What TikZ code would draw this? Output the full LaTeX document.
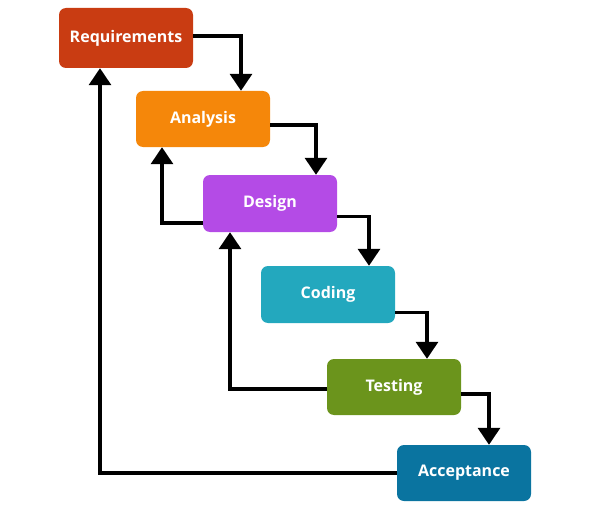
\documentclass[tikz,border=0pt]{standalone}
\usepackage{fontspec}
\setmainfont{Open Sans}
\usetikzlibrary{arrows.meta}
\definecolor{creq}{HTML}{C93C12}
\definecolor{cana}{HTML}{F5870A}
\definecolor{cdes}{HTML}{B44BE6}
\definecolor{ccod}{HTML}{23A8BE}
\definecolor{ctes}{HTML}{6B941C}
\definecolor{cacc}{HTML}{0A74A0}
\tikzset{
  phase/.style={rounded corners=7pt, minimum width=134pt, text=white,
    font=\fontsize{16pt}{19pt}\selectfont\bfseries, inner sep=0pt},
  flow/.style={line width=3.2pt, -{Triangle[width=22pt,length=17pt]}, line join=miter}
}
\begin{document}
\begin{tikzpicture}[x=1pt,y=-1pt]
\useasboundingbox (0,0) rectangle (611,519);
\node[phase, fill=creq, minimum height=60pt] (req) at (126,38) {Requirements};
\node[phase, fill=cana, minimum height=56pt] (ana) at (203,119) {Analysis};
\node[phase, fill=cdes, minimum height=57pt] (des) at (270,203.5) {Design};
\node[phase, fill=ccod, minimum height=57pt] (cod) at (328,294.5) {Coding};
\node[phase, fill=ctes, minimum height=56pt] (tes) at (394,387) {Testing};
\node[phase, fill=cacc, minimum height=56pt] (acc) at (464,473) {Acceptance};
% forward flow
\draw[flow] ([yshift=2pt]req.east) -| ([xshift=38pt]ana.north);
\draw[flow] ([yshift=-6pt]ana.east) -| ([xshift=46pt]des.north);
\draw[flow] ([yshift=-13pt]des.east) -| ([xshift=41pt]cod.north);
\draw[flow] ([yshift=-18pt]cod.east) -| ([xshift=33pt]tes.north);
\draw[flow] ([yshift=-7pt]tes.east) -| ([xshift=25pt]acc.north);
% feedback
\draw[flow] ([yshift=-19.5pt]des.west) -| ([xshift=-41pt]ana.south);
\draw[flow] ([yshift=-2pt]tes.west) -| ([xshift=-40pt]des.south);
\draw[flow] (acc.west) -| ([xshift=-26pt]req.south);
\end{tikzpicture}
\end{document}
